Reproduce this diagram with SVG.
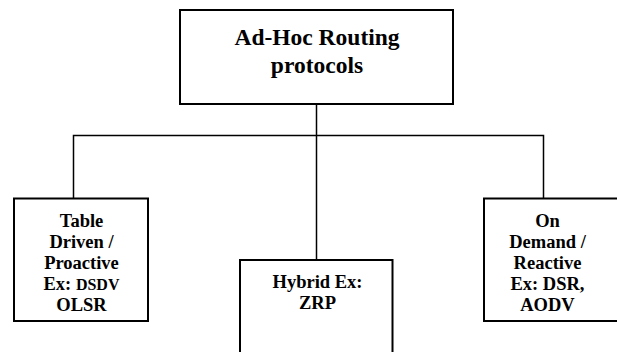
<svg xmlns="http://www.w3.org/2000/svg" width="617" height="352" viewBox="0 0 617 352">
  <style>
    .box { fill: #ffffff; stroke: #000000; stroke-width: 2; }
    .wire { fill: none; stroke: #000000; stroke-width: 1.5; }
    text { font-family: "Liberation Serif", "Times New Roman", serif; font-weight: bold; fill: #000000; text-anchor: middle; }
    .title { font-size: 23.5px; }
    .label { font-size: 18.5px; }
    .small { font-size: 16px; }
  </style>
  <rect width="617" height="352" fill="#ffffff"/>

  <!-- tree connectors -->
  <g id="connectors">
    <path class="wire" d="M316.5 104 V260"/>
    <path class="wire" d="M73.5 199 V135.5 H543.5 V199"/>
  </g>

  <g id="root">
    <rect class="box" x="180" y="10" width="273" height="94"/>
    <text class="title" x="317" y="45">Ad-Hoc Routing</text>
    <text class="title" x="317" y="72.5">protocols</text>
  </g>

  <g id="proactive">
    <rect class="box" x="14" y="198.5" width="134" height="122.5"/>
    <text class="label" x="81.5" y="226.5">Table</text>
    <text class="label" x="81.5" y="247.5">Driven /</text>
    <text class="label" x="81.5" y="268.5">Proactive</text>
    <text class="label" x="81.5" y="289.5">Ex: <tspan class="small">DSDV</tspan></text>
    <text class="label" x="81.5" y="310.5">OLSR</text>
  </g>

  <g id="hybrid">
    <rect class="box" x="240" y="260" width="152.5" height="100"/>
    <text class="label" x="317.5" y="287.5">Hybrid Ex:</text>
    <text class="label" x="317.5" y="308.5">ZRP</text>
  </g>

  <g id="reactive">
    <rect class="box" x="484" y="198.5" width="140" height="122.5"/>
    <text class="label" x="547.5" y="226.5">On</text>
    <text class="label" x="547.5" y="247.5">Demand /</text>
    <text class="label" x="547.5" y="268.5">Reactive</text>
    <text class="label" x="547.5" y="289.5">Ex: DSR,</text>
    <text class="label" x="547.5" y="310.5">AODV</text>
  </g>
</svg>
